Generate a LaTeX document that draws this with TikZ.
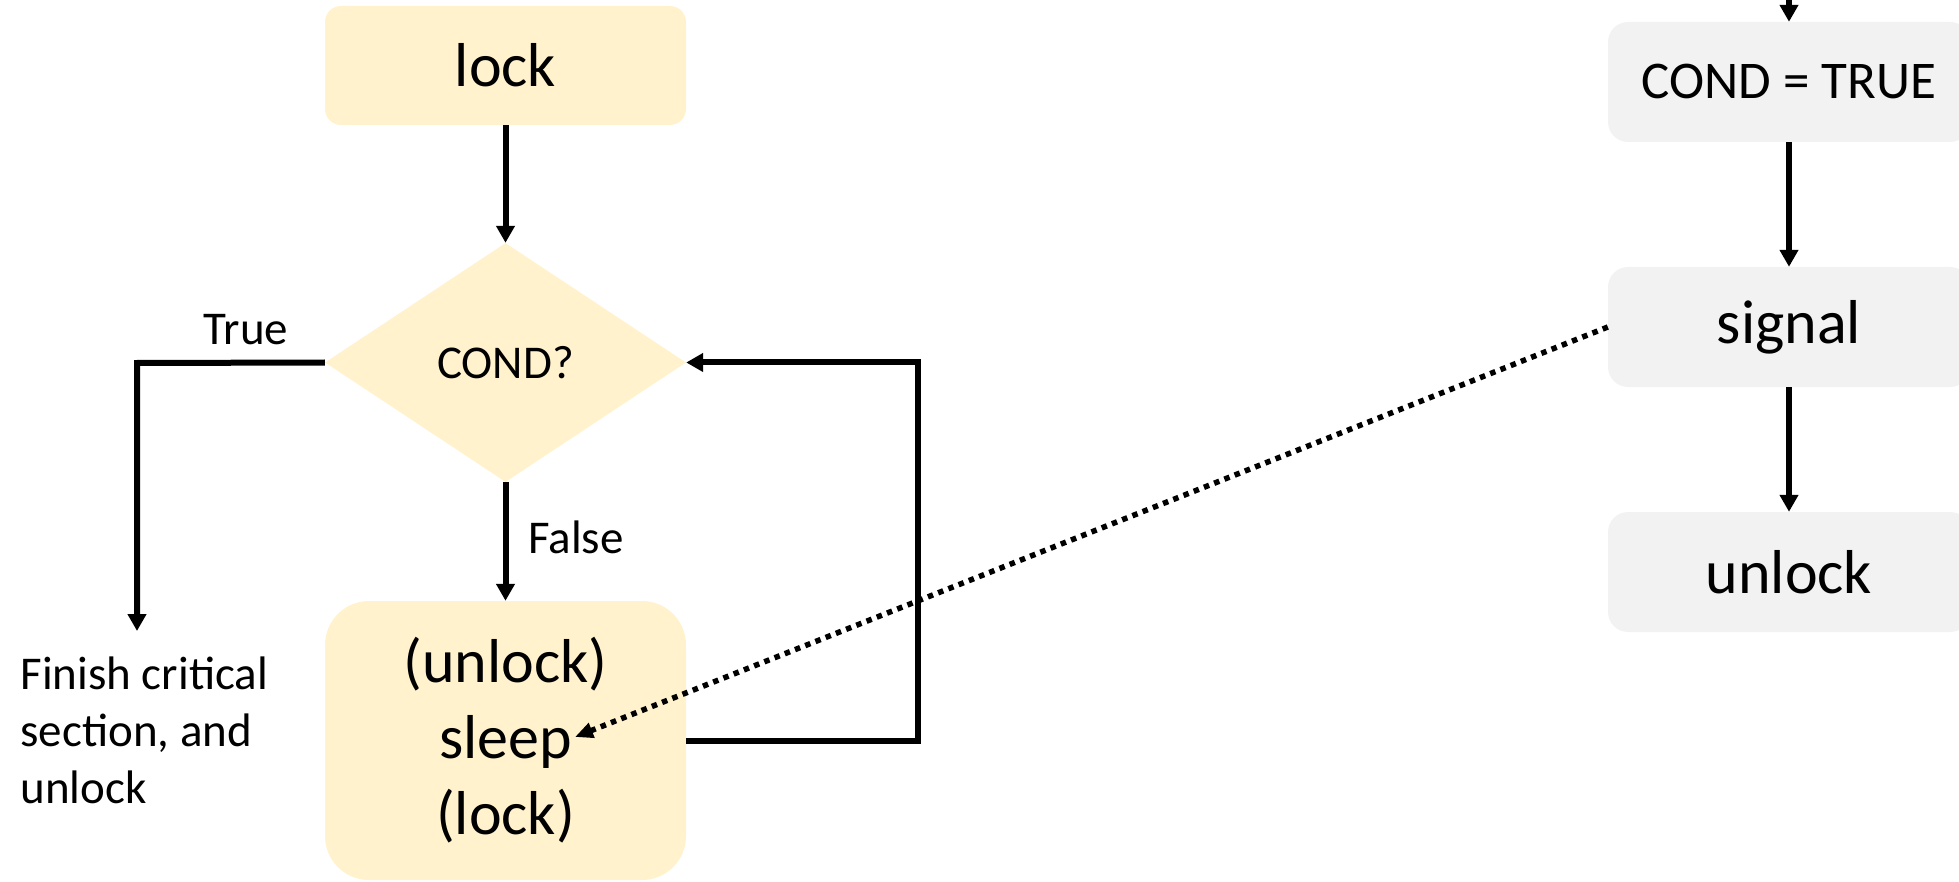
\documentclass[tikz,border=0pt]{standalone}
\usepackage{fontspec}
\setmainfont{Carlito}
\usetikzlibrary{shapes.geometric,arrows.meta}
\definecolor{ygold}{HTML}{FFF2CC}
\definecolor{lgray}{HTML}{F2F2F2}
\begin{document}
\begin{tikzpicture}[x=1pt,y=-1pt,
  big/.style={font=\fontsize{62}{76}\selectfont},
  small/.style={font=\fontsize{47}{57}\selectfont},
  ybox/.style={fill=ygold, rounded corners=16pt, minimum width=361pt, minimum height=119pt, inner sep=0pt, big},
  gbox/.style={fill=lgray, rounded corners=20pt, minimum width=362pt, minimum height=120pt, inner sep=0pt},
  decision/.style={diamond, fill=ygold, minimum width=361pt, minimum height=239pt, inner sep=0pt, small},
  conn/.style={line width=6pt, -{Triangle[length=17pt,width=18pt]}},
  plain/.style={line width=6pt},
  dotarrow/.style={line width=5.5pt, dash pattern=on 5.5pt off 5.5pt, -{Triangle[length=18pt,width=15pt]}}
]
\useasboundingbox (0,0) rectangle (1959,882);

% left flow
\node[ybox] (lock) at (505.5,65.5) {lock};
\node[decision] (cond) at (505.5,362.5) {COND?};
\node[ybox, minimum height=279pt, rounded corners=44pt, align=center] (sleep) at (505.5,740.5) {(unlock)\\sleep\\(lock)};
\node[small, anchor=west, align=left] (finish) at (17,730) {Finish critical\\section, and\\unlock};
\node[small] (truelbl) at (246,330) {True};
\node[small] (falselbl) at (576,537) {False};

\coordinate (tcorner) at (137,363);
\coordinate (tend) at (137,631);
\coordinate (lb) at (918,740.5);
\coordinate (lt) at (918,362.5);
\coordinate (sleeptip) at (575,737);

\draw[conn] (lock.south) -- (cond.north);
\draw[conn] (cond.south) -- (sleep.north);
\draw[conn] (cond.west) -- (tcorner) -- (tend);
\draw[conn] (sleep.east) -- (lb) -- (lt) -- (cond.east);

% right flow
\node[gbox, font=\fontsize{53}{64}\selectfont] (condtrue) at (1789,82) {COND = TRUE};
\node[gbox, big] (signal) at (1789,327) {signal};
\node[gbox, big] (unlock) at (1789,572) {unlock};
\coordinate (topin) at (1789,-10);

\draw[conn] (topin) -- (condtrue.north);
\draw[conn] (condtrue.south) -- (signal.north);
\draw[conn] (signal.south) -- (unlock.north);

\draw[dotarrow] (signal.west) -- (sleeptip);
\end{tikzpicture}
\end{document}
